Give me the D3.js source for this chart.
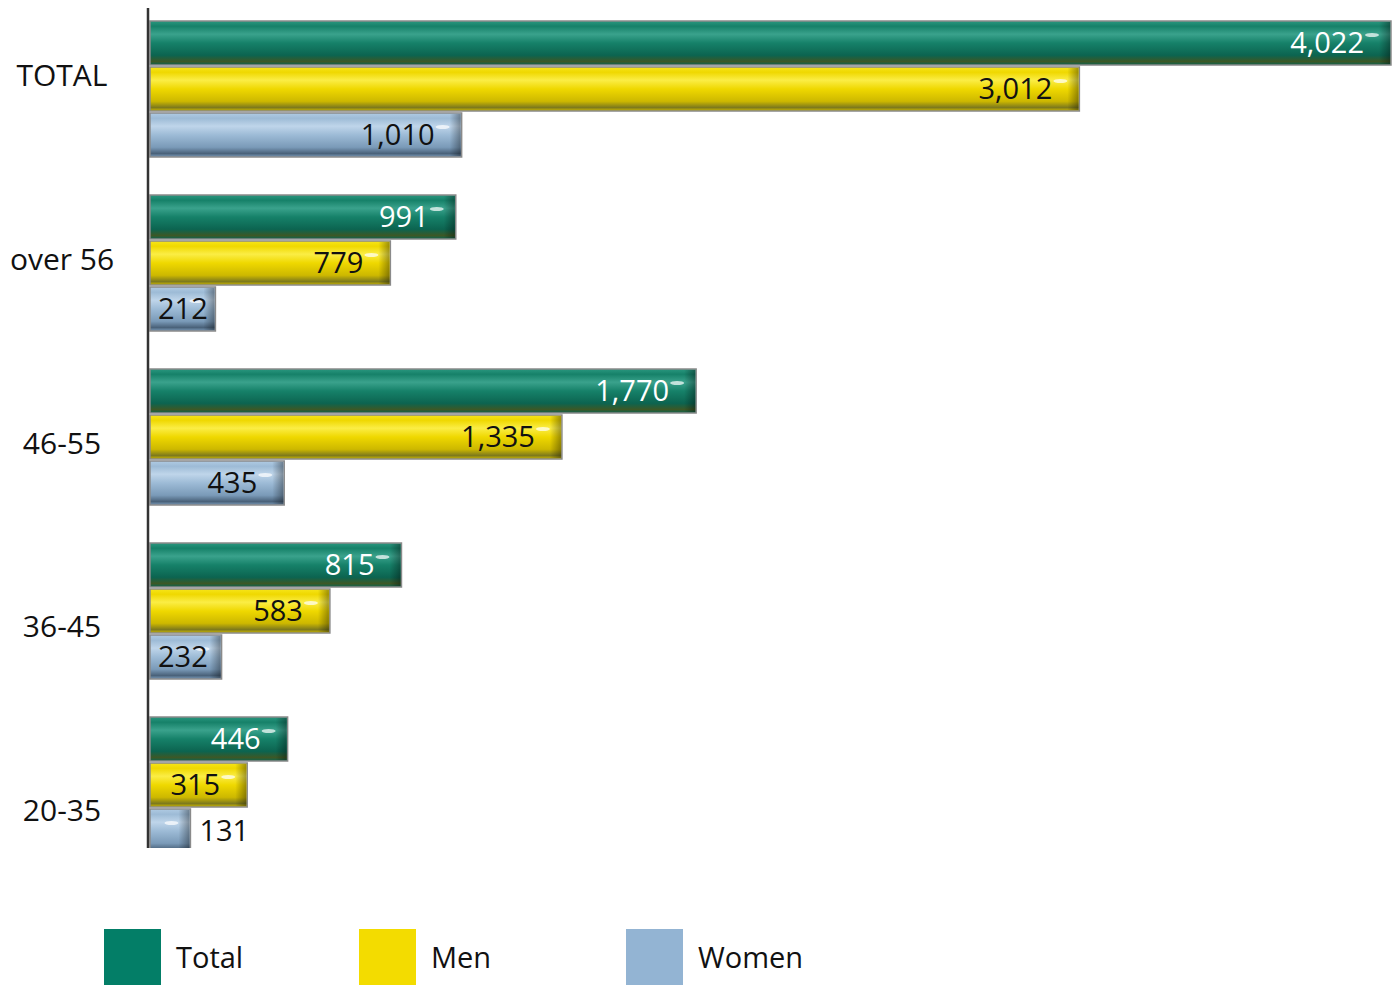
<!DOCTYPE html>
<html>
<head>
<meta charset="utf-8">
<script src="https://cdn.jsdelivr.net/npm/d3@7"></script>
<style>
  body { margin: 0; background: #fff; }
  svg text { font-family: "Open Sans", "Noto Sans", sans-serif; }
</style>
</head>
<body>
<svg id="chart" width="1397" height="985"></svg>
<script>
// age groups, top to bottom
var groups = ["TOTAL", "over 56", "46-55", "36-45", "20-35"];
var seriesNames = ["Total", "Men", "Women"];
var totalValues = [4022, 991, 1770, 815, 446];
var menValues = [3012, 779, 1335, 583, 315];
var womenValues = [1010, 212, 435, 232, 131];

var colors = ["#037e67", "#f3dc00", "#93b4d3"];
// glossy bar shades: top, highlight, mid, low, bottom
var shades = [
  ["#2a977f", "#3aa28c", "#168169", "#0c6450", "#3c5826"],
  ["#f7e51a", "#fbed45", "#efd800", "#cdb800", "#7e7a1c"],
  ["#b0cbe3", "#bfd5ea", "#9dbbd6", "#7a9ab8", "#4a627a"]
];
var labelColors = ["#fff", "#111", "#111"];

var svg = d3.select("#chart");
var defs = svg.append("defs");

var valuesBySeries = [totalValues, menValues, womenValues];
var rows = [];
groups.forEach(function(g, i){
  seriesNames.forEach(function(s, j){
    rows.push({group: g, series: s, idx: j, value: valuesBySeries[j][i]});
  });
});

var x = d3.scaleLinear()
    .domain([0, d3.max(totalValues)])
    .range([150, 1391]);

var y0 = d3.scaleBand()
    .domain(groups)
    .range([21, 853])
    .paddingInner(0.2184)
    .paddingOuter(0);

var y1 = d3.scaleBand()
    .domain(seriesNames)
    .range([0, y0.bandwidth()])
    .paddingInner(0.043);

// separate point scale for the category labels, like the original
var yLabel = d3.scalePoint()
    .domain(groups)
    .range([75, 810]);

shades.forEach(function(sh, j){
  var grad = defs.append("linearGradient")
      .attr("id", "gloss" + j)
      .attr("x1", 0).attr("y1", 0).attr("x2", 0).attr("y2", 1);
  var stops = [[0, sh[0]], [0.12, sh[2]], [0.3, sh[1]], [0.5, sh[2]], [0.78, sh[3]], [0.92, sh[4]], [1, sh[3]]];
  stops.forEach(function(st){
    grad.append("stop").attr("offset", st[0]).attr("stop-color", st[1]);
  });
});

var endGrad = defs.append("linearGradient")
    .attr("id", "endShade")
    .attr("x1", 0).attr("y1", 0).attr("x2", 1).attr("y2", 0);
endGrad.append("stop").attr("offset", 0).attr("stop-color", "#000").attr("stop-opacity", 0);
endGrad.append("stop").attr("offset", 1).attr("stop-color", "#000").attr("stop-opacity", 0.35);

defs.append("clipPath").attr("id", "plotClip")
  .append("rect").attr("x", 0).attr("y", 0).attr("width", 1397).attr("height", 848);

var plot = svg.append("g").attr("clip-path", "url(#plotClip)");

var bar = plot.selectAll("g.bar")
    .data(rows)
    .enter()
    .append("g")
    .attr("class", "bar")
    .attr("transform", function(d){ return "translate(0," + (y0(d.group) + y1(d.series)) + ")"; });

var bh = y1.bandwidth();

bar.append("rect")
    .attr("x", x(0))
    .attr("y", 0)
    .attr("width", function(d){ return x(d.value) - x(0); })
    .attr("height", bh)
    .attr("fill", function(d){ return "url(#gloss" + d.idx + ")"; })
    .attr("stroke", "#8a8a8a")
    .attr("stroke-width", 1.5);

bar.append("rect")
    .attr("x", function(d){ return x(d.value) - 12; })
    .attr("y", 1)
    .attr("width", 11)
    .attr("height", bh - 2)
    .attr("fill", "url(#endShade)");

bar.append("ellipse")
    .attr("cx", function(d){ return x(d.value) - 19; })
    .attr("cy", 14)
    .attr("rx", 7)
    .attr("ry", 2)
    .attr("fill", "#fff")
    .attr("opacity", 0.7);

bar.append("text")
    .attr("x", function(d){
      var w = x(d.value) - x(0);
      if (w < 50) return x(d.value) + 9;
      return x(d.value) - 27;
    })
    .attr("y", bh / 2 + 10)
    .attr("text-anchor", function(d){ return (x(d.value) - x(0)) < 50 ? "start" : "end"; })
    .attr("font-size", 29)
    .attr("fill", function(d){ return (x(d.value) - x(0)) < 50 ? "#111" : labelColors[d.idx]; })
    .text(function(d){ return d3.format(",")(d.value); })
    .each(function(d){
      // keep the text inside the bar start for short bars
      var bb = this.getBBox();
      if (bb.x < x(0) + 8) {
        d3.select(this).attr("text-anchor", "start").attr("x", x(0) + 8);
      }
    });

// vertical axis line
svg.append("line")
    .attr("x1", 148).attr("x2", 148)
    .attr("y1", 8).attr("y2", 848)
    .attr("stroke", "#333")
    .attr("stroke-width", 2.5);

svg.selectAll("text.cat")
    .data(groups)
    .enter()
    .append("text")
    .attr("class", "cat")
    .attr("x", 62)
    .attr("y", function(d){ return yLabel(d) + 11; })
    .attr("text-anchor", "middle")
    .attr("font-size", 30)
    .attr("fill", "#111")
    .text(function(d){ return d; });

// legend
var legendX = [0, 255, 522];
var legend = svg.append("g").attr("transform", "translate(104,929)");
seriesNames.forEach(function(s, j){
  var item = legend.append("g").attr("transform", "translate(" + legendX[j] + ",0)");
  item.append("rect")
      .attr("width", 57).attr("height", 56)
      .attr("fill", colors[j]);
  item.append("text")
      .attr("x", 72)
      .attr("y", 39)
      .attr("font-size", 29)
      .attr("fill", "#111")
      .text(s);
});
</script>
</body>
</html>
